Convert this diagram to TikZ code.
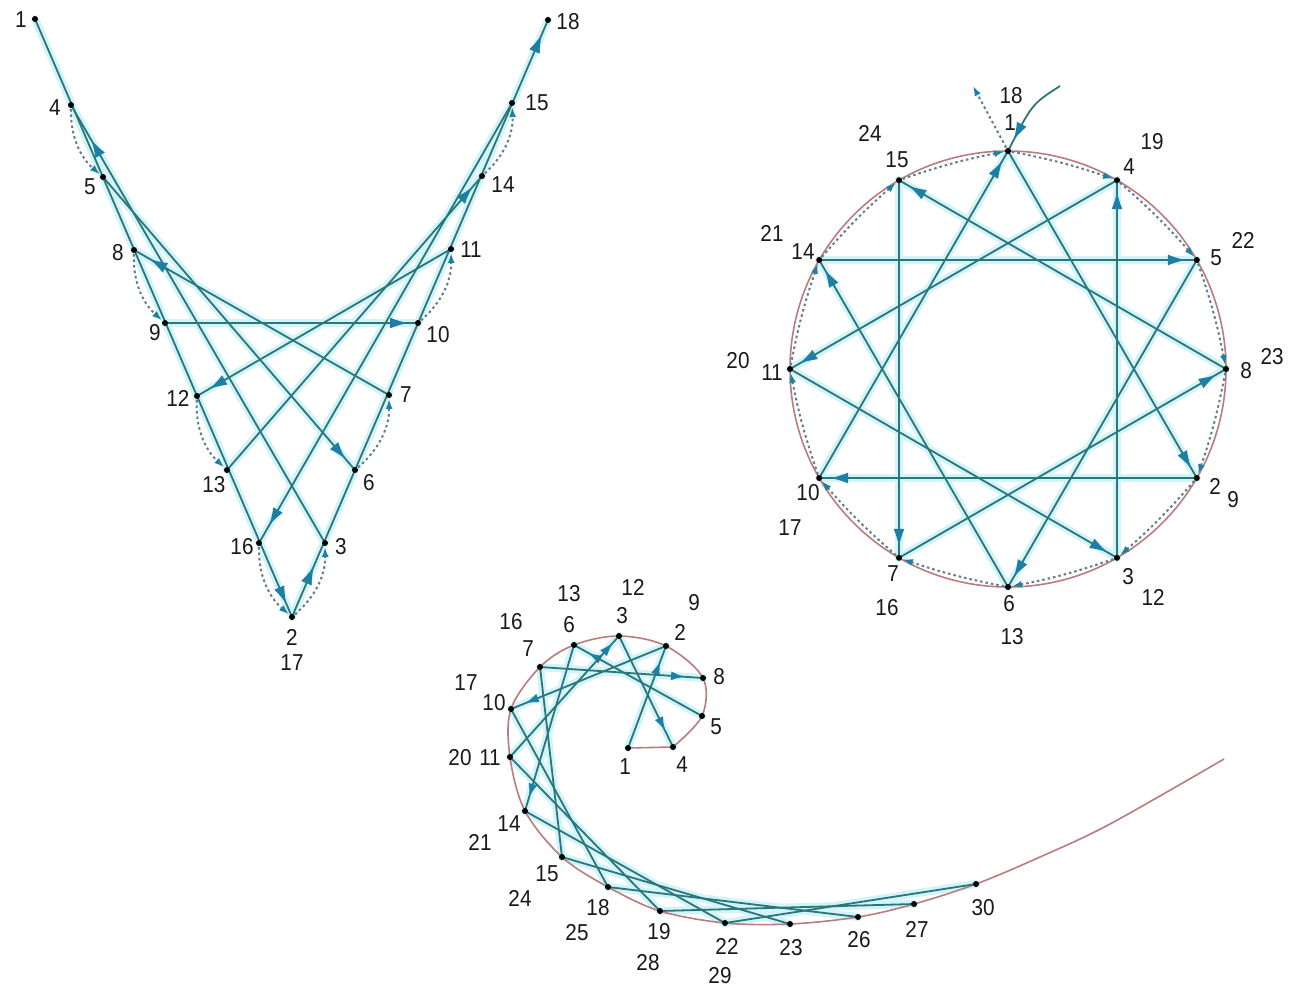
\documentclass[tikz,border=0pt]{standalone}
\usepackage{fontspec}
\setmainfont{Liberation Sans}
\usetikzlibrary{arrows.meta,decorations.markings}
\definecolor{threadc}{RGB}{42,118,120}
\definecolor{arrowc}{RGB}{28,128,165}
\definecolor{dotc}{RGB}{95,125,138}
\definecolor{rosyc}{RGB}{185,125,125}
\definecolor{haloc}{RGB}{210,243,248}
\tikzset{
  thr/.style={draw=threadc, line width=1.8pt},
  halo/.style={draw=haloc, line width=8pt, line cap=round},
  tip/.style={postaction={decorate}, decoration={markings, mark=at position #1 with {\arrow{Latex[length=18pt,width=11pt,color=arrowc]}}}},
  stip/.style={postaction={decorate}, decoration={markings, mark=at position #1 with {\arrow{Latex[length=14pt,width=9pt,color=arrowc]}}}},
  dotarr/.style={draw=dotc, line width=2pt, dash pattern=on 2.5pt off 3pt, -{Latex[length=10pt,width=7pt,color=arrowc]}, shorten <=4pt, shorten >=4pt},
  rosy/.style={draw=rosyc, line width=1.6pt},
  lab/.style={font=\fontsize{23}{23}\selectfont, text=black!90, inner sep=0pt, xscale=0.9},
}
\begin{document}
\begin{tikzpicture}[x=1pt,y=-1pt]
\useasboundingbox[fill=white] (0,0) rectangle (1290,994);
% ---------------- V shape ----------------
\coordinate (V1) at (35,19);
\coordinate (V4) at (71,105);
\coordinate (V5) at (103,177);
\coordinate (V8) at (134,250);
\coordinate (V9) at (165,323);
\coordinate (V12) at (197,396);
\coordinate (V13) at (227,470);
\coordinate (V16) at (259,543);
\coordinate (V2) at (292,617);
\coordinate (V3) at (325,543);
\coordinate (V6) at (355,470);
\coordinate (V7) at (389,395);
\coordinate (V10) at (418,323);
\coordinate (V11) at (451,249);
\coordinate (V14) at (482,176);
\coordinate (V15) at (512,103);
\coordinate (V18) at (548,20);
% ---------------- circle ----------------
\coordinate (CC) at (1008,369);
\coordinate (C1) at (1008,151);
\coordinate (C4) at (1117,180.2);
\coordinate (C5) at (1196.8,260);
\coordinate (C8) at (1226,369);
\coordinate (C2) at (1196.8,478);
\coordinate (C3) at (1117,557.8);
\coordinate (C6) at (1008,587);
\coordinate (C7) at (899,557.8);
\coordinate (C10) at (819.2,478);
\coordinate (C11) at (790,369);
\coordinate (C14) at (819.2,260);
\coordinate (C15) at (899,180.2);
\coordinate (Cout) at (973,86);
\coordinate (Cin) at (1060,86);
% ---------------- spiral ----------------
\coordinate (S1) at (628,748);
\coordinate (S4) at (673,747);
\coordinate (S5) at (702,716);
\coordinate (S8) at (703,678);
\coordinate (S2) at (666,646);
\coordinate (S3) at (619,636);
\coordinate (S6) at (574,645);
\coordinate (S7) at (540,667);
\coordinate (S10) at (511,709);
\coordinate (S11) at (510,757);
\coordinate (S14) at (525,811);
\coordinate (S15) at (562,857);
\coordinate (S18) at (608,887);
\coordinate (S19) at (660,911);
\coordinate (S22) at (725,923);
\coordinate (S23) at (790,924);
\coordinate (S26) at (858,917);
\coordinate (S27) at (914,904);
\coordinate (S30) at (976,884);
\coordinate (E1) at (1040,857);
\coordinate (E2) at (1110,824);
\coordinate (Eend) at (1224,759);
% ---------------- halos ----------------
\foreach \a/\b in {V1/V2,V3/V4,V5/V6,V7/V8,V9/V10,V11/V12,V13/V14,V15/V16,V2/V18,
  C1/C2,C3/C4,C5/C6,C7/C8,C2/C10,C11/C3,C6/C14,C15/C7,C10/C1,C4/C11,C14/C5,C8/C15,
  S1/S2,S3/S4,S5/S6,S7/S8,S2/S10,S11/S3,S6/S14,S15/S7,S10/S18,S19/S11,S14/S22,S23/S15,S18/S26,S27/S19,S22/S30}
  \draw[halo] (\a) -- (\b);
% ---------------- curves ----------------
\draw[rosy] (CC) circle (218);
\draw[rosy] (S1) -- (S4);
\draw[rosy] plot[smooth, tension=0.55] coordinates {(S4) (S5) (S8) (S2) (S3) (S6) (S7) (S10) (S11) (S14) (S15) (S18) (S19) (S22) (S23) (S26) (S27) (S30) (E1) (E2) (Eend)};
% ---------------- V threads ----------------
\draw[thr, tip=-14pt] (V1) -- (V2);
\draw[thr, tip=-40pt] (V3) -- (V4);
\draw[thr, tip=-14pt] (V5) -- (V6);
\draw[thr, tip=-18pt] (V7) -- (V8);
\draw[thr, tip=-10pt] (V9) -- (V10);
\draw[thr, tip=-14pt] (V11) -- (V12);
\draw[thr, tip=-14pt] (V13) -- (V14);
\draw[thr, tip=-20pt] (V15) -- (V16);
\draw[thr, tip=55pt, tip=-16pt] (V2) -- (V18);
\foreach \a/\b in {V2/V3,V4/V5,V6/V7,V8/V9,V10/V11,V12/V13,V14/V15,V16/V2}
  \draw[dotarr] (\a) to[bend right=25] (\b);
% ---------------- circle threads ----------------
\foreach \a/\b in {C1/C2,C3/C4,C5/C6,C7/C8,C2/C10,C11/C3,C6/C14,C15/C7,C10/C1,C4/C11,C14/C5,C8/C15}
  \draw[thr, tip=-11pt] (\a) -- (\b);
\foreach \a/\b in {C2/C3,C4/C5,C6/C7,C8/C2,C10/C11,C3/C6,C14/C15,C7/C10,C1/C4,C11/C14,C5/C8,C15/C1}
  \draw[dotarr] (\a) to[bend left=4] (\b);
\draw[dotarr, shorten >=0pt] (C1) -- (Cout);
\draw[thr, tip=-12pt] (Cin) .. controls (1032,104) .. (C1);
% ---------------- spiral threads ----------------
\draw[thr, stip=-16pt] (S1) -- (S2);
\draw[thr, stip=-18pt] (S3) -- (S4);
\draw[thr, stip=-16pt] (S5) -- (S6);
\draw[thr, stip=-18pt] (S7) -- (S8);
\draw[thr, stip=-15pt] (S2) -- (S10);
\draw[thr, stip=-9pt] (S11) -- (S3);
\draw[thr, stip=-14pt] (S6) -- (S14);
\foreach \a/\b in {S15/S7,S10/S18,S19/S11,S14/S22,S23/S15,S18/S26,S27/S19,S22/S30}
  \draw[thr] (\a) -- (\b);
% ---------------- dots ----------------
\foreach \p in {V1,V2,V3,V4,V5,V6,V7,V8,V9,V10,V11,V12,V13,V14,V15,V16,V18,
  C1,C2,C3,C4,C5,C6,C7,C8,C10,C11,C14,C15,
  S1,S2,S3,S4,S5,S6,S7,S8,S10,S11,S14,S15,S18,S19,S22,S23,S26,S27,S30}
  \fill (\p) circle (3pt);
% ---------------- V labels ----------------
\node[lab] (lv1) at (21,20) {1};
\node[lab] (lv4) at (55,108) {4};
\node[lab] (lv5) at (90,187) {5};
\node[lab] (lv8) at (118,253) {8};
\node[lab] (lv9) at (155,333) {9};
\node[lab] (lv12) at (178,398) {12};
\node[lab] (lv13) at (214,485) {13};
\node[lab] (lv16) at (242,547) {16};
\node[lab] (lv2) at (292,637) {2};
\node[lab] (lv17) at (292,663) {17};
\node[lab] (lv3) at (341,547) {3};
\node[lab] (lv6) at (369,483) {6};
\node[lab] (lv7) at (406,395) {7};
\node[lab] (lv10) at (438,335) {10};
\node[lab] (lv11) at (471,250) {11};
\node[lab] (lv14) at (503,185) {14};
\node[lab] (lv15) at (537,103) {15};
\node[lab] (lv18) at (568,22) {18};
% ---------------- circle labels ----------------
\node[lab] (lc18) at (1011,96) {18};
\node[lab] (lc1) at (1010,123) {1};
\node[lab] (lc4) at (1129,167) {4};
\node[lab] (lc19) at (1152,142) {19};
\node[lab] (lc5) at (1216,258) {5};
\node[lab] (lc22) at (1243,240) {22};
\node[lab] (lc8) at (1246,371) {8};
\node[lab] (lc23) at (1272,357) {23};
\node[lab] (lc2) at (1215,486) {2};
\node[lab] (lc9) at (1233,500) {9};
\node[lab] (lc3) at (1128,577) {3};
\node[lab] (lc12) at (1153,597) {12};
\node[lab] (lc6) at (1009,604) {6};
\node[lab] (lc13) at (1012,637) {13};
\node[lab] (lc7) at (893,574) {7};
\node[lab] (lc16) at (887,608) {16};
\node[lab] (lc10) at (808,493) {10};
\node[lab] (lc17) at (790,528) {17};
\node[lab] (lc11) at (772,373) {11};
\node[lab] (lc20) at (738,361) {20};
\node[lab] (lc14) at (803,252) {14};
\node[lab] (lc21) at (772,233) {21};
\node[lab] (lc15) at (897,160) {15};
\node[lab] (lc24) at (870,133) {24};
% ---------------- spiral labels ----------------
\node[lab] (ls1) at (625,767) {1};
\node[lab] (ls4) at (682,765) {4};
\node[lab] (ls5) at (716,727) {5};
\node[lab] (ls8) at (719,677) {8};
\node[lab] (ls2) at (680,632) {2};
\node[lab] (ls9) at (694,603) {9};
\node[lab] (ls3) at (622,616) {3};
\node[lab] (ls12) at (633,587) {12};
\node[lab] (ls6) at (569,625) {6};
\node[lab] (ls13) at (569,594) {13};
\node[lab] (ls7) at (528,649) {7};
\node[lab] (ls16) at (511,622) {16};
\node[lab] (ls10) at (494,703) {10};
\node[lab] (ls17) at (466,683) {17};
\node[lab] (ls11) at (490,758) {11};
\node[lab] (ls20) at (460,758) {20};
\node[lab] (ls14) at (509,824) {14};
\node[lab] (ls21) at (480,842) {21};
\node[lab] (ls15) at (547,874) {15};
\node[lab] (ls24) at (520,898) {24};
\node[lab] (ls18) at (598,908) {18};
\node[lab] (ls25) at (577,933) {25};
\node[lab] (ls19) at (659,932) {19};
\node[lab] (ls28) at (648,963) {28};
\node[lab] (ls22) at (727,946) {22};
\node[lab] (ls29) at (720,976) {29};
\node[lab] (ls23) at (791,948) {23};
\node[lab] (ls26) at (859,940) {26};
\node[lab] (ls27) at (917,929) {27};
\node[lab] (ls30) at (983,908) {30};
\end{tikzpicture}
\end{document}
